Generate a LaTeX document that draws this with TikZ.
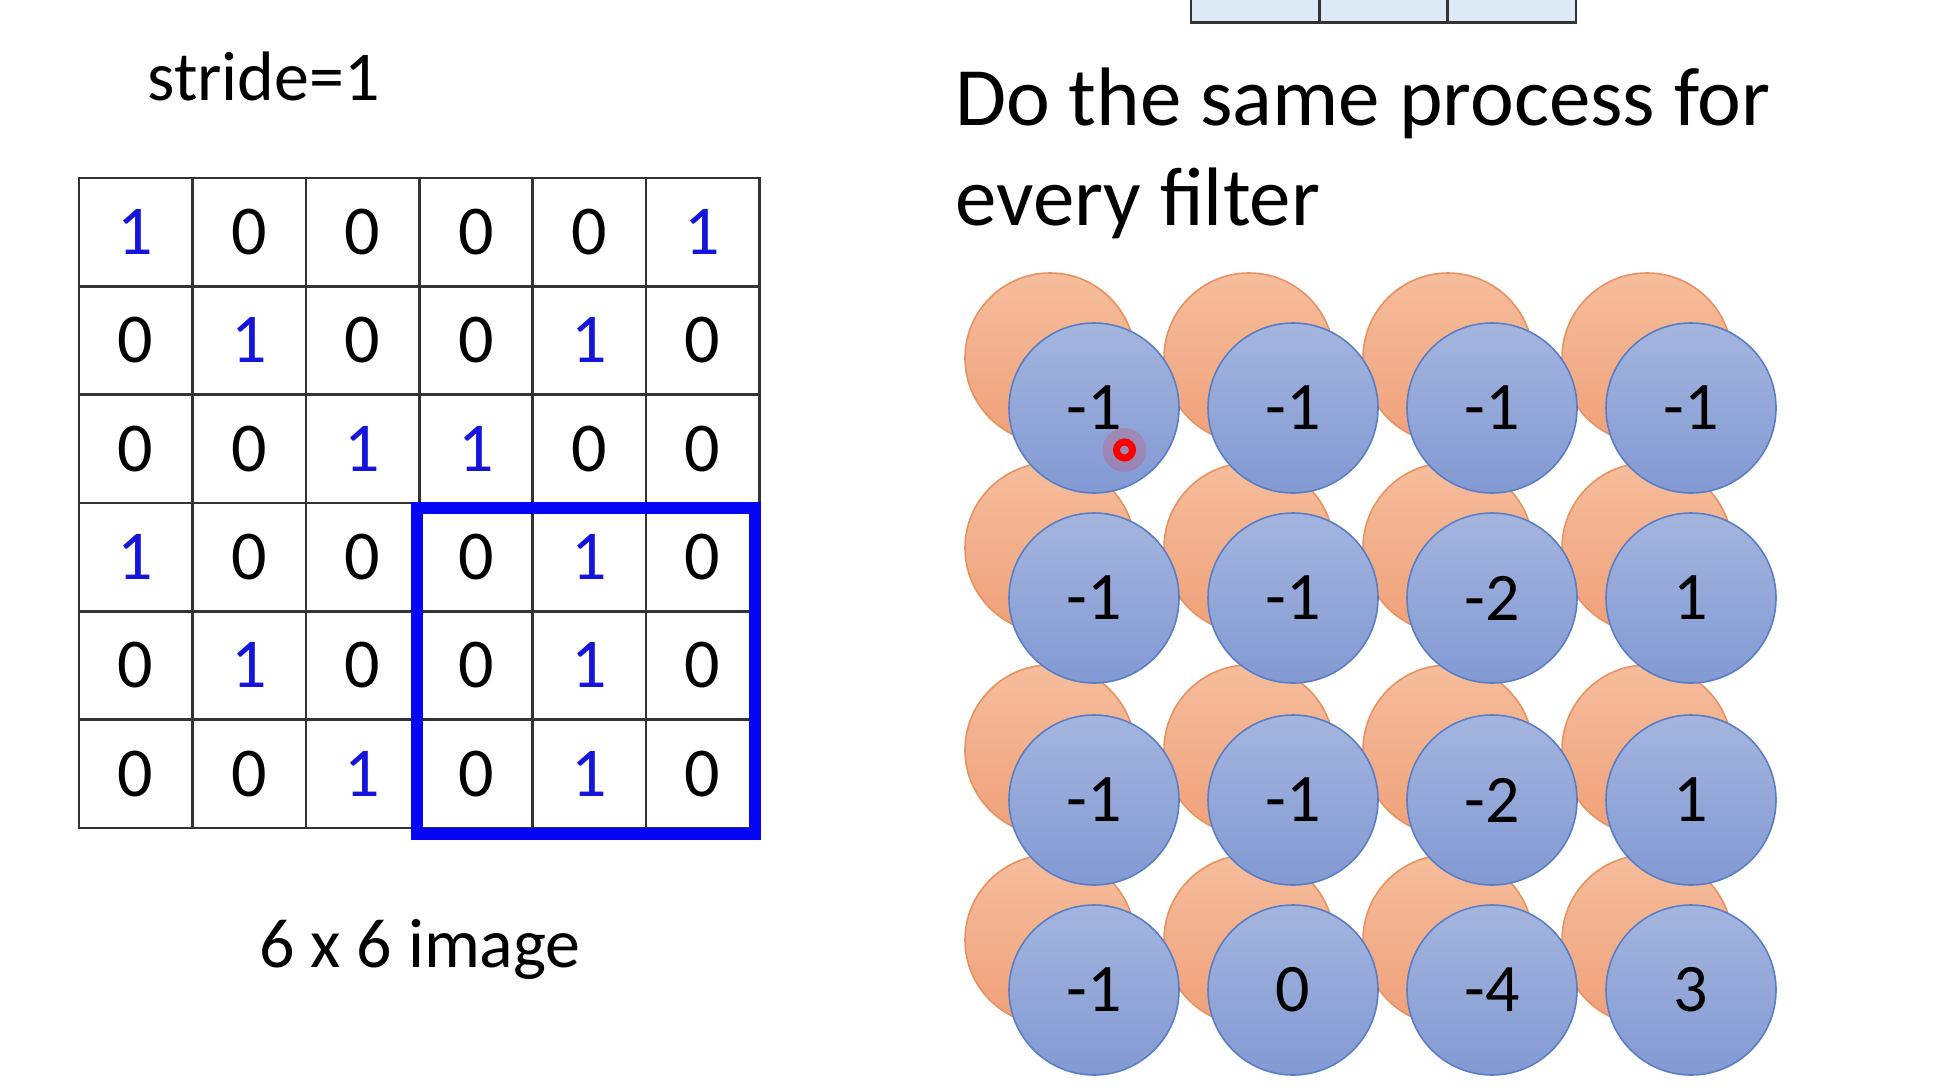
\documentclass[tikz,border=0pt]{standalone}
\usepackage{fontspec}
\setmainfont{Carlito}
\definecolor{gridgray}{HTML}{333333}
\definecolor{onecol}{RGB}{20,20,220}
\definecolor{boxblue}{RGB}{5,5,245}
\definecolor{featfill}{HTML}{DEEBF7}
\definecolor{bluetop}{HTML}{A4B5DE}
\definecolor{bluebot}{HTML}{8299D3}
\definecolor{blueline}{HTML}{5A7EC6}
\definecolor{orangetop}{HTML}{F6BD9C}
\definecolor{orangebot}{HTML}{EFA17A}
\definecolor{orangeline}{HTML}{E8935F}
\begin{document}
\begin{tikzpicture}[x=0.5pt,y=-0.5pt,
  cell/.style={draw=gridgray,line width=1.3pt,minimum width=56.7pt,minimum height=54.15pt,inner sep=0pt,font=\fontsize{35}{42}\selectfont},
  fcell/.style={draw=gridgray,fill=featfill,line width=1.3pt,minimum width=64.15pt,minimum height=64.5pt,inner sep=0pt},
  neuron/.style={circle,draw=blueline,line width=0.8pt,top color=bluetop,bottom color=bluebot,minimum size=85pt,inner sep=0pt,font=\fontsize{34}{40}\selectfont},
  backneuron/.style={circle,draw=orangeline,line width=0.8pt,top color=orangetop,bottom color=orangebot,minimum size=85pt,inner sep=0pt},
  txt/.style={inner sep=0pt,font=\fontsize{35}{42}\selectfont},
  head/.style={inner sep=0pt,anchor=base west,font=\fontsize{41.5}{50}\selectfont}]
  \path[use as bounding box,fill=white] (0,0) rectangle (1954,1092);
  \node[txt,anchor=base west] (stride) at (147,100) {stride=1};
  \foreach \vals [count=\row] in {{1,0,0,0,0,1},{0,1,0,0,1,0},{0,0,1,1,0,0},{1,0,0,0,1,0},{0,1,0,0,1,0},{0,0,1,0,1,0}}
    \foreach \v [count=\col] in \vals
      \node[cell] (c-\row-\col) at ({79+113.4*(\col-0.5)},{178+108.3*(\row-0.5)}) {\ifnum\v=1 \textcolor{onecol}{1}\else 0\fi};
  \draw[boxblue,line width=5.6pt] (417,508) rectangle (755,834);
  \node[txt,anchor=base] (caption) at (420,967) {6 x 6 image};
  \foreach \i in {1,2,3}
    \node[fcell] (f-\i) at ({1191+128.3*(\i-0.5)},-42) {};
  \node[head] (head-1) at (955,125) {Do the same process for};
  \node[head] (head-2) at (955,225) {every filter};
  \foreach \y [count=\row] in {408,598,800,990}
    \foreach \col in {1,...,4}
      \node[backneuron] (o-\row-\col) at ({1094+199*(\col-1)-44},\y-50) {};
  \foreach \y/\vals [count=\row] in {408/{-1,-1,-1,-1},598/{-1,-1,-2,1},800/{-1,-1,-2,1},990/{-1,0,-4,3}}
    \foreach \v [count=\col] in \vals
      \node[neuron] (n-\row-\col) at ({1094+199*(\col-1)},\y) {\v};
  \fill[red,opacity=.15] (1124.5,450) circle (11pt);
  \node[circle,draw=red,line width=3.5pt,minimum size=8pt,inner sep=0pt] (pointer) at (1124.5,450) {};
\end{tikzpicture}
\end{document}
